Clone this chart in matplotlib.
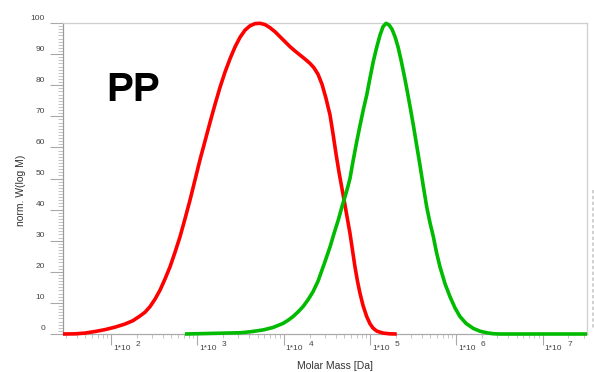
import matplotlib
matplotlib.use("Agg")
import matplotlib.pyplot as plt
from matplotlib.lines import Line2D
from matplotlib.transforms import ScaledTranslation
import numpy as np

plt.rcParams['font.family'] = ['Liberation Sans', 'DejaVu Sans']

# Molar mass distributions (log10 of molar mass in Da, normalised W(log M))
red_logM = [1.444, 1.583, 1.699, 1.815, 1.930, 2.046, 2.162, 2.255, 2.336, 2.394,
            2.452, 2.510, 2.568, 2.626, 2.684, 2.742, 2.800, 2.857, 2.915, 2.973,
            3.031, 3.089, 3.147, 3.205, 3.263, 3.321, 3.379, 3.437, 3.495, 3.553,
            3.611, 3.669, 3.727, 3.784, 3.842, 3.900, 3.958, 4.016, 4.074, 4.132,
            4.190, 4.248, 4.306, 4.352, 4.399, 4.445, 4.491, 4.538, 4.572, 4.607,
            4.642, 4.665, 4.711, 4.746, 4.769, 4.798, 4.827, 4.856, 4.885, 4.920,
            4.963, 5.001, 5.036, 5.082, 5.152, 5.233, 5.311]
red_w = [0.0, 0.05, 0.3, 0.8, 1.4, 2.2, 3.2, 4.3, 5.8, 7.0,
         8.8, 11.2, 14.1, 17.7, 21.6, 26.3, 31.3, 37.0, 43.0, 49.5,
         56.0, 62.0, 68.0, 73.8, 79.3, 84.2, 88.5, 92.3, 95.4, 97.7,
         99.1, 99.8, 99.9, 99.5, 98.5, 97.2, 95.6, 94.0, 92.4, 91.0,
         89.7, 88.4, 87.0, 85.6, 83.5, 80.3, 75.8, 70.4, 64.5, 58.0,
         52.0, 48.5, 41.5, 36.0, 32.4, 27.0, 21.6, 17.0, 13.1, 9.2,
         5.6, 3.3, 1.9, 0.9, 0.3, 0.05, 0.0]

green_logM = [2.857, 3.495, 3.611, 3.761, 3.877, 3.993, 4.051, 4.109, 4.167, 4.225,
              4.283, 4.341, 4.399, 4.422, 4.480, 4.538, 4.584, 4.634, 4.677, 4.711,
              4.746, 4.769, 4.804, 4.847, 4.885, 4.925, 4.963, 5.001, 5.039, 5.077,
              5.117, 5.152, 5.187, 5.221, 5.256, 5.291, 5.326, 5.360, 5.395, 5.430,
              5.465, 5.503, 5.540, 5.580, 5.619, 5.658, 5.696, 5.735, 5.772, 5.812,
              5.870, 5.928, 5.986, 6.044, 6.114, 6.198, 6.276, 6.353, 6.426, 6.508,
              7.516]
green_w = [0.0, 0.4, 0.7, 1.3, 2.1, 3.4, 4.4, 5.6, 7.1, 8.8,
           11.0, 13.6, 17.0, 18.8, 23.3, 28.0, 32.3, 36.7, 41.0, 44.1,
           47.5, 50.0, 55.5, 61.8, 67.0, 72.3, 76.8, 82.3, 87.6, 92.0,
           96.1, 98.8, 99.9, 99.4, 98.0, 95.6, 92.3, 88.2, 83.5, 78.5,
           73.2, 67.2, 61.0, 54.3, 47.5, 40.9, 35.8, 31.3, 26.2, 21.6,
           16.2, 12.0, 8.4, 5.6, 3.4, 1.8, 0.9, 0.4, 0.1, 0.0,
           0.0]

decades = [2, 3, 4, 5, 6, 7]
y_ticks = [0, 10, 20, 30, 40, 50, 60, 70, 80, 90, 100]

fig = plt.figure(figsize=(5.94, 3.72), dpi=100)
ax = fig.add_axes([63 / 594, 1 - 334 / 372, 524 / 594, 311 / 372])

ax.plot(10 ** np.array(red_logM), red_w, color='#ff0000', lw=2.6,
        solid_joinstyle='round', solid_capstyle='butt', clip_on=False, zorder=3)
ax.plot(10 ** np.array(green_logM), green_w, color='#00bb00', lw=2.6,
        solid_joinstyle='round', solid_capstyle='butt', clip_on=False, zorder=3)

ax.set_xscale('log')
ax.set_xlim(10 ** 1.4438, 10 ** 7.5156)
ax.set_ylim(0, 100)

# spines
ax.spines['left'].set_color('#9a9a9a')
ax.spines['bottom'].set_color('#aaaaaa')
ax.spines['top'].set_color('#cfcfcf')
ax.spines['right'].set_color('#cfcfcf')
for s in ax.spines.values():
    s.set_linewidth(0.9)

# y axis ticks
ax.set_yticks(y_ticks)
ax.set_yticks(np.arange(0, 101, 1), minor=True)
ax.tick_params(axis='y', which='major', length=9.4, width=0.8, color='#aaaaaa',
               labelsize=6, labelcolor='#444444', pad=3.6)
ax.tick_params(axis='y', which='minor', length=3.8, width=0.6, color='#bbbbbb')
for lab in ax.get_yticklabels():
    lab.set_transform(lab.get_transform() + ScaledTranslation(0, 0.06, fig.dpi_scale_trans))

# x axis ticks: decades labelled as 1*10 with exponent
ax.set_xticks([10.0 ** k for k in decades])
ax.set_xticklabels([''] * len(decades))
ax.tick_params(axis='x', which='major', length=8, width=0.8, color='#aaaaaa')
ax.tick_params(axis='x', which='minor', length=3, width=0.6, color='#bbbbbb')
for k in decades:
    ax.annotate('1*10', xy=(10.0 ** k, 0), xycoords=('data', 'axes fraction'),
                xytext=(1.5, -10.2), textcoords='offset points',
                ha='left', va='center', fontsize=6, color='#444444')
    ax.annotate(str(k), xy=(10.0 ** k, 0), xycoords=('data', 'axes fraction'),
                xytext=(17.8, -7.2), textcoords='offset points',
                ha='left', va='center', fontsize=6, color='#444444')

# axis titles
fig.text(335 / 594, 1 - 366 / 372, 'Molar Mass [Da]', ha='center', va='center',
         fontsize=7.5, color='#333333')
fig.text(20.5 / 594, 1 - 190 / 372, 'norm. W(log M)', ha='center', va='center',
         rotation=90, fontsize=7.5, color='#333333')

# sample label
ax.text(106 / 594, 1 - 90 / 372, 'PP', transform=fig.transFigure, ha='left',
        va='center', fontsize=29, fontweight='bold', color='#000000')

# faint right-hand scale remnant
fig.add_artist(Line2D([593 / 594, 593 / 594], [1 - 190 / 372, 1 - 330 / 372],
                      transform=fig.transFigure, color='#c8c8c8', lw=1.2,
                      linestyle=(0, (2, 1.5))))

fig.savefig('out.png', dpi=100)
